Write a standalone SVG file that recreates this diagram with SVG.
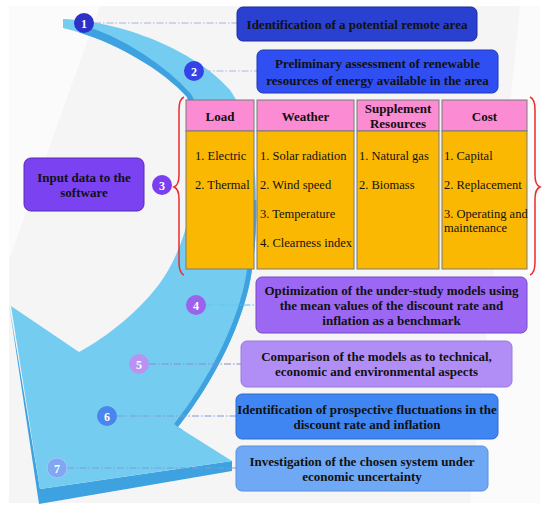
<svg xmlns="http://www.w3.org/2000/svg" width="550" height="514" viewBox="0 0 550 514">
<style>
.bt{font-family:'Liberation Serif','DejaVu Serif',serif;font-weight:bold;font-size:13px;fill:#111;text-anchor:middle}
.tt{font-family:'Liberation Serif','DejaVu Serif',serif;font-size:12.5px;fill:#111}
.num{font-family:'Liberation Serif','DejaVu Serif',serif;font-weight:bold;font-size:12px;fill:#fff;text-anchor:middle}
.hd{fill:#fb8bd2;stroke:#7a7a7a;stroke-width:1}
.bd{fill:#fbb802;stroke:#7a7a7a;stroke-width:1}
.cn{fill:none;stroke-width:1;stroke-dasharray:7 2 1.5 2}
.br{fill:none;stroke:#ee2a2a;stroke-width:1.5}
</style>
<defs>
<clipPath id="ac"><path d="M63,19 C130,22 200,55 230,90 C255,125 262,200 252,270 C245,320 215,380 178,427 L232,461 L40,489 L11,306 L79,352 C110,335 140,310 160,283 C195,235 205,150 187,97 C165,72 115,40 63,28 Z"/></clipPath>
</defs>
<rect width="550" height="514" fill="#fff"/>
<rect x="9" y="6" width="531" height="497" fill="#f5f5f5"/>
<polygon points="9,6 100,6 9,260" fill="#fff" opacity="0.55"/>
<polygon points="520,6 540,6 540,503 470,503" fill="#fff" opacity="0.6"/>
<g id="arrow">
<polygon points="9,304 39,504 232,471 232,461 40,489" fill="#3ea2e0"/>
<path d="M63,19 C130,22 200,55 230,90 C255,125 262,200 252,270 C245,320 215,380 178,427 L232,461 L40,489 L11,306 L79,352 C110,335 140,310 160,283 C195,235 205,150 187,97 C165,72 115,40 63,28 Z" fill="#74cdf0"/>
<g clip-path="url(#ac)">
<path d="M80,30 C120,40 165,72 187,97 C198,115 202,140 203,160" fill="none" stroke="#3ea2e0" stroke-width="10"/>
<path d="M258,200 C258,230 256,250 252,270 C245,320 215,380 178,427" fill="none" stroke="#3ea2e0" stroke-width="10"/>
</g>
</g>
<g id="connectors">
<line class="cn" x1="94" y1="23" x2="237" y2="23" stroke="#a9b2dc"/>
<line class="cn" x1="204" y1="71" x2="257" y2="71" stroke="#a9b8e6"/>
<line class="cn" x1="206" y1="305" x2="256" y2="305" stroke="#5fc4ee"/>
<line class="cn" x1="149" y1="364" x2="241" y2="364" stroke="#8a8ad0"/>
<line class="cn" x1="117" y1="416" x2="236" y2="416" stroke="#7f9bd8"/>
<line class="cn" x1="67" y1="468" x2="236" y2="468" stroke="#7f9bd8"/>
</g>
<g id="step1">
<rect x="237" y="7" width="240" height="34" rx="6" fill="#2a40d0" stroke="#1c2c9c"/>
<text class="bt" x="357" y="28.5">Identification of a potential remote area</text>
<circle cx="84" cy="23" r="10" fill="#2d30c9"/>
<text class="num" x="84" y="27.5">1</text>
</g>
<g id="step2">
<rect x="257" y="50" width="241" height="43" rx="6" fill="#2f4ff2" stroke="#2038b0"/>
<text class="bt" x="377.5" y="68">Preliminary assessment of renewable</text>
<text class="bt" x="377.5" y="84.5">resources of energy available in the area</text>
<circle cx="194" cy="71" r="10" fill="#3443e6"/>
<text class="num" x="194" y="75.5">2</text>
</g>
<g id="step3">
<rect x="24" y="158" width="120" height="53" rx="7" fill="#7b42f2" stroke="#5a2ab0"/>
<text class="bt" x="84" y="182">Input data to the</text>
<text class="bt" x="84" y="196.5">software</text>
<circle cx="162" cy="185" r="10" fill="#7a3ff0"/>
<text class="num" x="162" y="189.5">3</text>
<path class="br" d="M184,97 Q179,99 179,110 L179,175 Q179,185 174,187 Q179,189 179,199 L179,262 Q179,273 184,275"/>
<path class="br" d="M530,97 Q535,99 535,110 L535,175 Q535,185 540,187 Q535,189 535,199 L535,262 Q535,273 530,275"/>
</g>
<g id="table">
<rect class="hd" x="186" y="100" width="68" height="31"/>
<rect class="bd" x="186" y="131" width="68" height="138"/>
<rect class="hd" x="257" y="100" width="97" height="31"/>
<rect class="bd" x="257" y="131" width="97" height="138"/>
<rect class="hd" x="357" y="100" width="82" height="31"/>
<rect class="bd" x="357" y="131" width="82" height="138"/>
<rect class="hd" x="442" y="100" width="85" height="31"/>
<rect class="bd" x="442" y="131" width="85" height="138"/>
<text class="bt" x="220" y="120.5">Load</text>
<text class="bt" x="305.5" y="120.5">Weather</text>
<text class="bt" x="398" y="112.5">Supplement</text>
<text class="bt" x="398" y="127.5">Resources</text>
<text class="bt" x="484.5" y="120.5">Cost</text>
<text class="tt" x="195" y="159.5">1. Electric</text>
<text class="tt" x="195" y="188.5">2. Thermal</text>
<text class="tt" x="260" y="159.5">1. Solar radiation</text>
<text class="tt" x="260" y="188.5">2. Wind speed</text>
<text class="tt" x="260" y="217.5">3. Temperature</text>
<text class="tt" x="260" y="246.5">4. Clearness index</text>
<text class="tt" x="359" y="159.5">1. Natural gas</text>
<text class="tt" x="359" y="188.5">2. Biomass</text>
<text class="tt" x="444" y="159.5">1. Capital</text>
<text class="tt" x="444" y="188.5">2. Replacement</text>
<text class="tt" x="444" y="217.5">3. Operating and</text>
<text class="tt" x="444" y="231.5">maintenance</text>
</g>
<g id="step4">
<rect x="256" y="277" width="271" height="56" rx="6" fill="#9c68f3" stroke="#7448c8"/>
<text class="bt" x="391.5" y="294.5">Optimization of the under-study models using</text>
<text class="bt" x="391.5" y="309.5">the mean values of the discount rate and</text>
<text class="bt" x="391.5" y="325">inflation as a benchmark</text>
<circle cx="196" cy="305" r="10" fill="#9b62ec"/>
<text class="num" x="196" y="309.5">4</text>
</g>
<g id="step5">
<rect x="241" y="341" width="271" height="46" rx="6" fill="#b18ef5" stroke="#9a78dc"/>
<text class="bt" x="376.5" y="360.5">Comparison of the models as to technical,</text>
<text class="bt" x="376.5" y="376">economic and environmental aspects</text>
<circle cx="139" cy="364" r="10" fill="#b893f3"/>
<text class="num" x="139" y="368.5">5</text>
</g>
<g id="step6">
<rect x="236" y="394" width="262" height="45" rx="6" fill="#3f86f2" stroke="#2f6ad0"/>
<text class="bt" x="367" y="413.5">Identification of prospective fluctuations in the</text>
<text class="bt" x="367" y="429">discount rate and inflation</text>
<circle cx="107" cy="416" r="10" fill="#4a85ee"/>
<text class="num" x="107" y="420.5">6</text>
</g>
<g id="step7">
<rect x="236" y="446" width="252" height="45" rx="6" fill="#6fa9f5" stroke="#5a90dc"/>
<text class="bt" x="362" y="465.5">Investigation of the chosen system under</text>
<text class="bt" x="362" y="481">economic uncertainty</text>
<circle cx="57" cy="468" r="10" fill="#7fa7f2" stroke="#a8c2f6"/>
<text class="num" x="57" y="472.5">7</text>
</g>
</svg>
